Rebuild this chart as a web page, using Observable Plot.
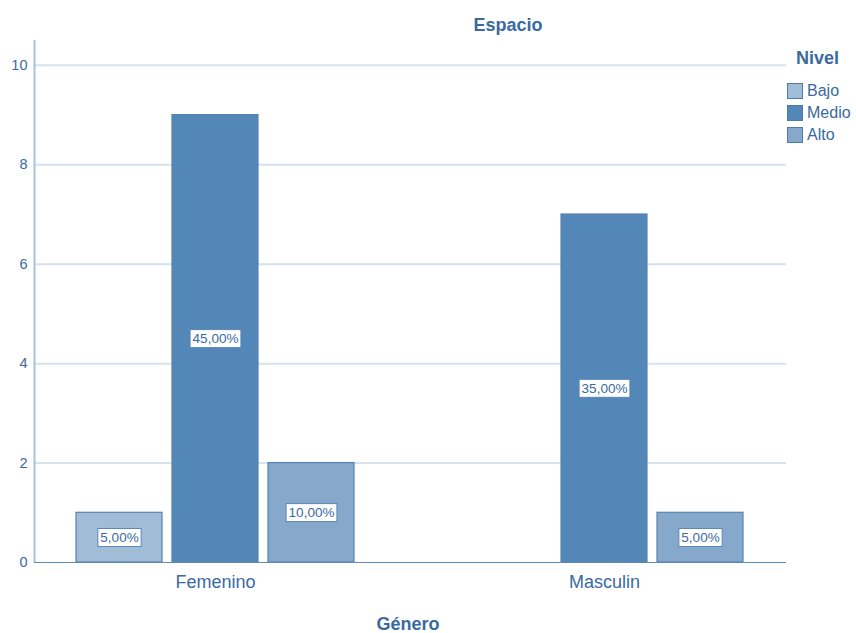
<!DOCTYPE html>
<html>
<head>
<meta charset="utf-8">
<script src="https://cdn.jsdelivr.net/npm/d3@7"></script>
<script src="https://cdn.jsdelivr.net/npm/@observablehq/plot@0.6"></script>
<style>
  body { margin: 0; background: #fff; font-family: Arial, "Liberation Sans", sans-serif; }
  #wrap { position: relative; width: 856px; height: 633px; }
  .ov { position: absolute; color: #3a6aa0; white-space: nowrap; }
  .title { font-weight: bold; font-size: 18px; }
  .legend-item { position: absolute; left: 787px; font-size: 16px; color: #3a6aa0; display: flex; align-items: center; }
  .sw { width: 16px; height: 16px; box-sizing: border-box; border: 1.5px solid #4d7cab; margin-right: 4px; }
</style>
</head>
<body>
<div id="wrap"></div>
<script>
const generos = ["Femenino", "Masculin"];
const niveles = ["Bajo", "Medio", "Alto"];
const recuentoFemenino = [1, 9, 2];
const recuentoMasculin = [0, 7, 1];
const pctFemenino = ["5,00%", "45,00%", "10,00%"];
const pctMasculin = ["0,00%", "35,00%", "5,00%"];
const yTicks = [0, 2, 4, 6, 8, 10];
const colores = ["#a1bcd7", "#5387b8", "#86a9cb"];

const textColor = "#3a6aa0";
const data = [];
niveles.forEach((n, i) => data.push({genero: generos[0], nivel: n, count: recuentoFemenino[i], pct: pctFemenino[i]}));
niveles.forEach((n, i) => data.push({genero: generos[1], nivel: n, count: recuentoMasculin[i], pct: pctMasculin[i]}));
const shown = data.filter(d => d.count > 0);
const grid = yTicks.filter(t => t > 0);

const chart = Plot.plot({
  width: 856,
  height: 633,
  marginLeft: 33,
  marginRight: 71,
  marginTop: 40,
  marginBottom: 71,
  style: {fontFamily: "Arial, 'Liberation Sans', sans-serif", background: "transparent"},
  fx: {domain: generos, paddingInner: 111 / 389, paddingOuter: 42.5 / 389, label: null},
  x: {domain: niveles, paddingInner: 10 / 96, paddingOuter: 0, axis: null},
  y: {domain: [0, 10.5], label: null},
  color: {domain: niveles, range: colores},
  marks: [
    Plot.ruleY(grid, {fx: () => generos[0], stroke: "#d6e2ee", strokeWidth: 2, insetLeft: -42, insetRight: -111}),
    Plot.ruleY(grid, {fx: () => generos[1], stroke: "#d6e2ee", strokeWidth: 2, insetLeft: 0, insetRight: -43}),
    Plot.ruleX([0], {fx: () => generos[0], x: () => niveles[0], y1: 0, y2: 10.5, dx: -85, stroke: "#a9c2dc", strokeWidth: 2}),
    Plot.axisY({ticks: yTicks, tickSize: 0, tickPadding: 7, dx: -42, fontSize: 14.5, fill: textColor, label: null}),
    Plot.barY(shown, {fx: "genero", x: "nivel", y: "count", fill: "nivel", stroke: "#5583b1", strokeWidth: 1.2}),
    Plot.ruleY([0], {fx: () => generos[0], stroke: "#5e8ab6", strokeWidth: 1.2, insetLeft: -42, insetRight: -111}),
    Plot.ruleY([0], {fx: () => generos[1], stroke: "#5e8ab6", strokeWidth: 1.2, insetLeft: 0, insetRight: -43}),
    Plot.text(shown, {fx: "genero", x: "nivel", y: d => d.count / 2, text: "pct", fill: textColor, fontSize: 13.5}),
    Plot.axisFx({anchor: "bottom", tickSize: 0, tickPadding: 13, fontSize: 18, fill: textColor, label: null})
  ]
});

const wrap = document.getElementById("wrap");
wrap.appendChild(chart);

// white boxes behind percentage labels
d3.select(chart).selectAll("text").filter(function() {
  return /%$/.test(this.textContent.trim());
}).each(function() {
  const b = this.getBBox();
  const parent = this.parentNode;
  const rect = document.createElementNS("http://www.w3.org/2000/svg", "rect");
  const t = this.getAttribute("transform");
  if (t) rect.setAttribute("transform", t);
  rect.setAttribute("x", b.x - 2.5);
  rect.setAttribute("y", b.y - 1.5);
  rect.setAttribute("width", b.width + 5);
  rect.setAttribute("height", b.height + 3);
  rect.setAttribute("fill", "#fff");
  rect.setAttribute("stroke", "#5a86b3");
  rect.setAttribute("stroke-width", 1);
  parent.insertBefore(rect, this);
});

function addDiv(cls, text, style) {
  const el = document.createElement("div");
  el.className = cls;
  el.textContent = text;
  Object.assign(el.style, style);
  wrap.appendChild(el);
  return el;
}
addDiv("ov title", "Espacio", {left: "508px", top: "15px", transform: "translateX(-50%)"});
addDiv("ov title", "Género", {left: "408px", top: "614px", transform: "translateX(-50%)", fontSize: "18px"});
addDiv("ov title", "Nivel", {left: "796px", top: "48px"});
niveles.forEach((n, i) => {
  const item = document.createElement("div");
  item.className = "legend-item";
  item.style.top = (82 + i * 22) + "px";
  const sw = document.createElement("div");
  sw.className = "sw";
  sw.style.background = colores[i];
  item.appendChild(sw);
  item.appendChild(document.createTextNode(n));
  wrap.appendChild(item);
});
</script>
</body>
</html>
